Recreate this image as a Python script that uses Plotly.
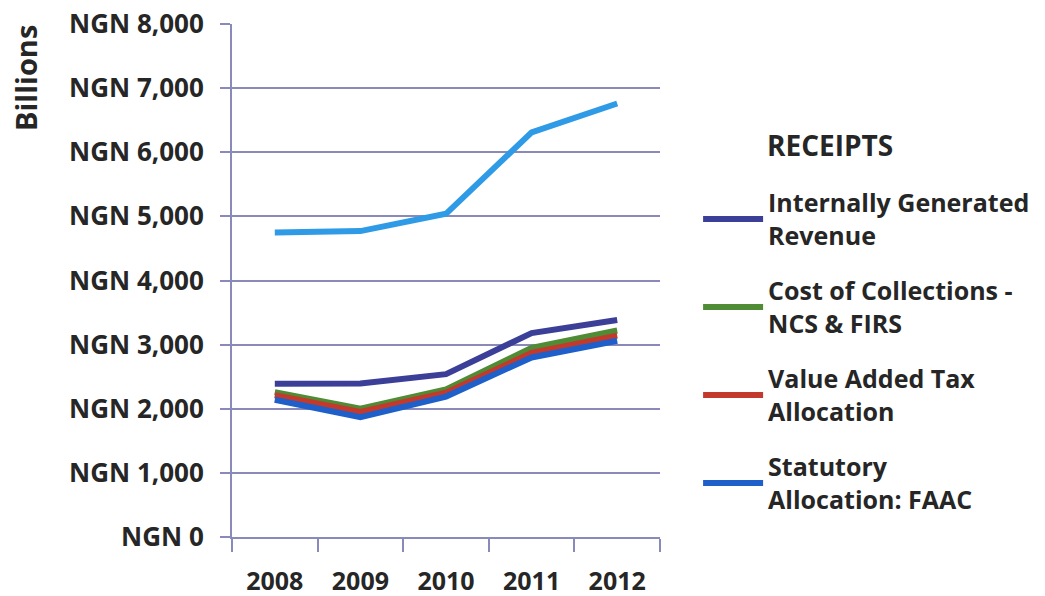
import plotly.graph_objects as go

years = ["2008", "2009", "2010", "2011", "2012"]
total_receipts = [4750, 4770, 5040, 6310, 6760]
igr = [2390, 2395, 2540, 3180, 3385]
cost_collections = [2260, 2000, 2300, 2950, 3220]
vat_allocation = [2210, 1950, 2250, 2870, 3140]
statutory_faac = [2140, 1870, 2190, 2800, 3060]
y_ticks = [0, 1000, 2000, 3000, 4000, 5000, 6000, 7000, 8000]
y_tick_labels = ["NGN 0", "NGN 1,000", "NGN 2,000", "NGN 3,000", "NGN 4,000",
                 "NGN 5,000", "NGN 6,000", "NGN 7,000", "NGN 8,000"]

FONT = "Open Sans"
GRID = "#8a8aba"
TXT = "#262626"

fig = go.Figure()
fig.add_trace(go.Scatter(x=years, y=total_receipts, mode="lines", name="Total",
                         line=dict(color="#2f9be6", width=6), showlegend=False))
series = [
    ("Internally Generated<br>Revenue", igr, "#3b3f98"),
    ("Cost of Collections -<br>NCS & FIRS", cost_collections, "#4f8c35"),
    ("Value Added Tax<br>Allocation", vat_allocation, "#c33a2c"),
    ("Statutory<br>Allocation: FAAC", statutory_faac, "#1e5fc9"),
]
for i, (name, vals, col) in enumerate(series):
    fig.add_trace(go.Scatter(x=years, y=vals, mode="lines", name=name,
                             legendgroup=f"g{i}",
                             line=dict(color=col, width=6)))

fig.update_layout(
    width=1045, height=596,
    margin=dict(l=232, r=385, t=24, b=59, autoexpand=False),
    paper_bgcolor="white", plot_bgcolor="white",
    font=dict(family=FONT, color=TXT),
    showlegend=True,
    legend=dict(
        x=1.089, xanchor="left", y=0.696, yanchor="top",
        font=dict(size=25, family=FONT, color=TXT, weight="bold"),
        tracegroupgap=20, itemwidth=60,
        bgcolor="rgba(0,0,0,0)",
    ),
    xaxis=dict(
        type="category", range=[-0.5, 4.5], automargin=False,
        showline=True, linecolor=GRID, linewidth=2,
        ticks="outside", tickson="boundaries", ticklen=13, tickwidth=2, tickcolor=GRID,
        showgrid=False, ticklabelstandoff=21,
        tickfont=dict(size=25, family=FONT, color=TXT, weight="bold"),
    ),
    yaxis=dict(
        range=[0, 8000], tickvals=y_ticks, ticktext=y_tick_labels, automargin=False,
        showline=True, linecolor=GRID, linewidth=2,
        showgrid=True, gridcolor=GRID, gridwidth=2,
        ticks="outside", ticklen=10, tickwidth=2, tickcolor=GRID,
        ticklabelstandoff=11, zeroline=False, ticklabeloverflow="allow",
        tickfont=dict(size=26, family=FONT, color=TXT, weight="bold"),
    ),
    annotations=[
        dict(text="<b>Billions</b>", textangle=-90, xref="paper", yref="paper",
             x=(25 - 232) / 428, y=(537 - 78) / 513, xanchor="center", yanchor="middle",
             showarrow=False, font=dict(size=29, family=FONT, color=TXT)),
        dict(text="<b>RECEIPTS</b>", xref="paper", yref="paper",
             x=(765 - 232) / 428, y=(537 - 145) / 513, xanchor="left", yanchor="middle",
             showarrow=False, font=dict(size=28, family=FONT, color=TXT)),
    ],
)

fig.write_html("out.html", config={"displayModeBar": False},
               post_script="document.body.style.margin='0px';")
